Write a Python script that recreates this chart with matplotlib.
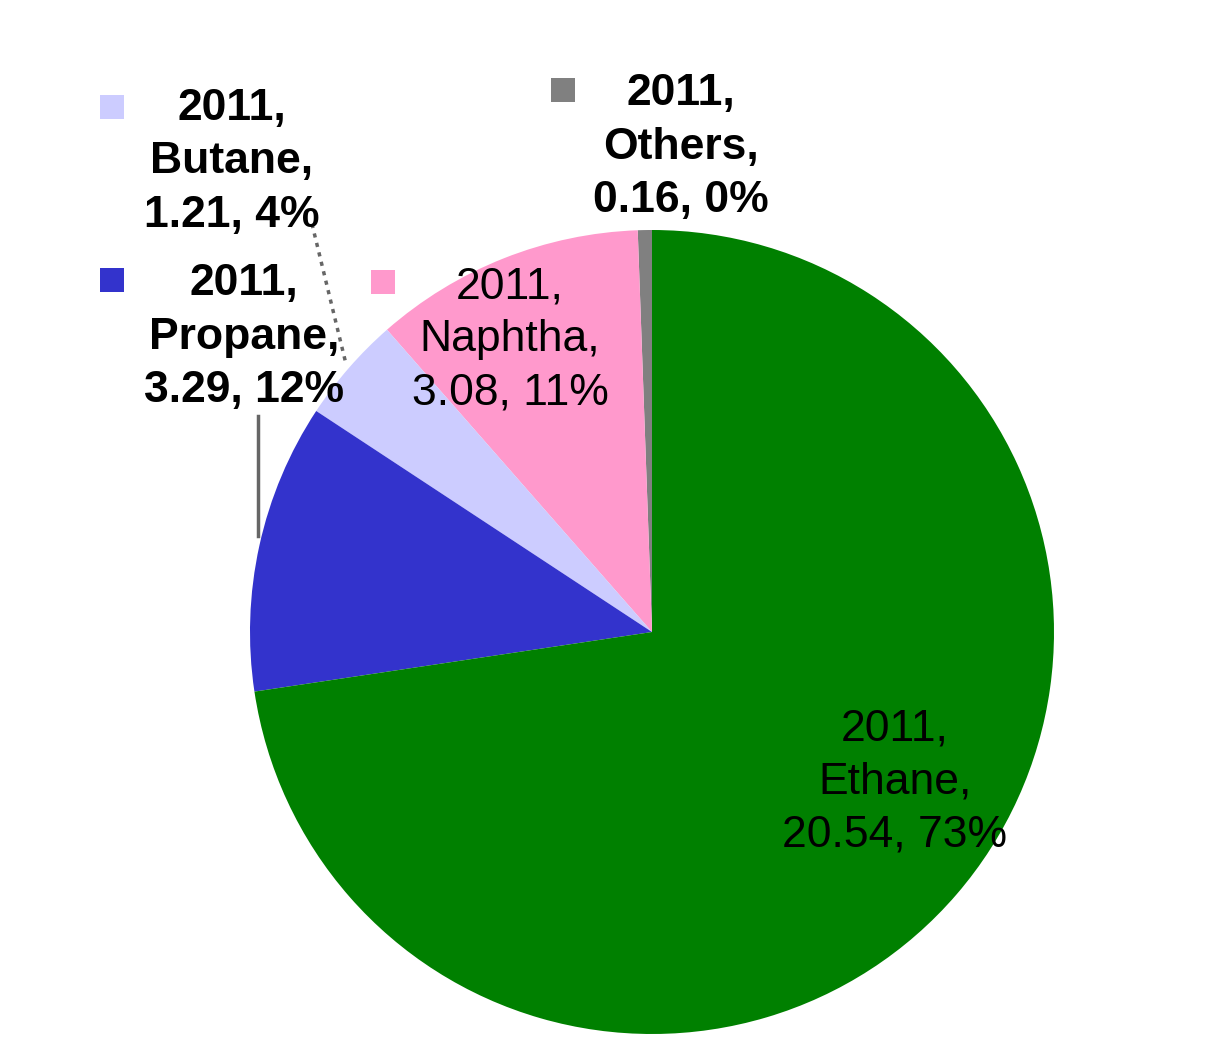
import matplotlib
matplotlib.use("Agg")
import matplotlib.pyplot as plt

# data
year = "2011"
categories = ["Others", "Naphtha", "Butane", "Propane", "Ethane"]
values = [0.16, 3.08, 1.21, 3.29, 20.54]
pct_labels = ["0%", "11%", "4%", "12%", "73%"]
colors = ["#808080", "#FF99CC", "#CCCCFF", "#3333CC", "#008000"]

# label layout in pixel coords (x, y of the text block centre), key square, bold
label_pos = {
    "Others": (681, 147),
    "Naphtha": (510, 340),
    "Butane": (232, 162),
    "Propane": (244, 337),
    "Ethane": (895, 782),
}
key_pos = {
    "Others": (563, 90),
    "Naphtha": (383, 282),
    "Butane": (112, 107),
    "Propane": (112, 280),
}
outside = {"Others", "Butane", "Propane"}

W, H = 1231, 1063
fig = plt.figure(figsize=(W / 100, H / 100), dpi=100)
ax = fig.add_axes([0, 0, 1, 1])

# y axis runs downward, so draw clockwise in data = counter-clockwise on screen
ax.pie(values, colors=colors, startangle=-90, counterclock=False,
       center=(652, 632), radius=402,
       wedgeprops=dict(linewidth=0))

ax.set_xlim(0, W)
ax.set_ylim(H, 0)
ax.set_aspect("equal")
ax.axis("off")

# leader lines
ax.plot([312, 346], [224, 364], color="#666666", lw=2.5, ls=(0, (1.2, 1.6)))
ax.plot([258, 258], [416, 536], color="#666666", lw=2.5)

for cat, val, pct in zip(categories, values, pct_labels):
    x, y = label_pos[cat]
    txt = f"{year},\n{cat},\n{val:.2f}, {pct}"
    ax.text(x, y, txt, ha="center", va="center", fontsize=32,
            family="Liberation Sans",
            fontweight="bold" if cat in outside else "normal",
            linespacing=1.38, color="black")
    if cat in key_pos:
        kx, ky = key_pos[cat]
        ax.scatter([kx], [ky], marker="s", s=300, color=colors[categories.index(cat)],
                   linewidths=0)

fig.savefig("out.png", dpi=100)
